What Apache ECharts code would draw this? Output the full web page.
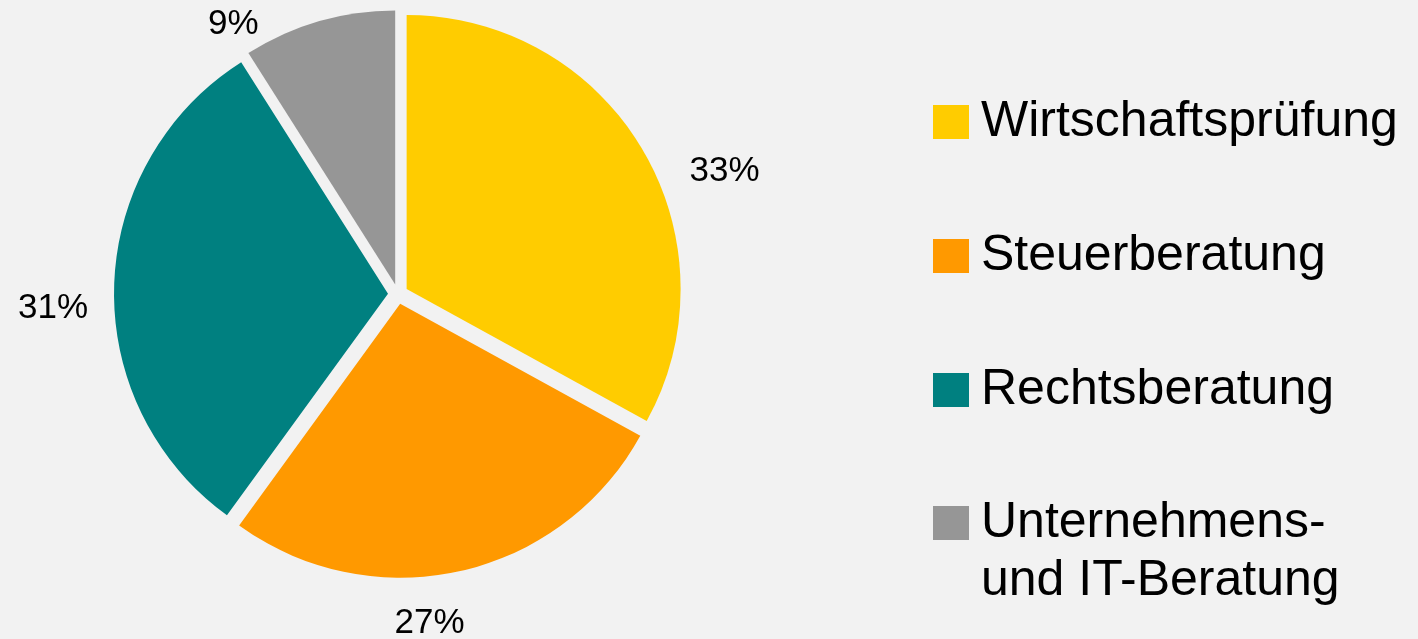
<!DOCTYPE html>
<html>
<head>
<meta charset="utf-8">
<script src="https://cdn.jsdelivr.net/npm/echarts@6/dist/echarts.min.js"></script>
<style>
html,body{margin:0;padding:0;background:#f2f2f2;}
#chart{width:1418px;height:639px;}
</style>
</head>
<body>
<div id="chart"></div>
<script>
// ---- data ----
const categories = ['Wirtschaftsprüfung', 'Steuerberatung', 'Rechtsberatung', 'Unternehmens-\nund IT-Beratung'];
const shares = [33, 27, 31, 9];

// ---- styling / label placement (not data) ----
const colors = ['#FFCC00', '#FF9900', '#008080', '#969696'];
const labelLineLen = [0, 53, 21, -3];
const labelLineLen2 = [42, -82, 0, 56];
const labelPadTop = [44, 0, 47, 0];

const FONT = '"Liberation Sans", Arial, sans-serif';
const LEGEND_FS = 50;
const LABEL_FS = 35;

const chart = echarts.init(document.getElementById('chart'));
const pieData = categories.map((name, i) => ({
  name: name,
  value: shares[i],
  selected: true,
  itemStyle: { color: colors[i] },
  label: { padding: [labelPadTop[i], 0, 0, 0] },
  labelLine: { length: labelLineLen[i], length2: labelLineLen2[i] }
}));

const legendRich = { a: { fontFamily: FONT, fontSize: LEGEND_FS, lineHeight: 58, color: '#000' } };

chart.setOption({
  animation: false,
  backgroundColor: '#f2f2f2',
  legend: [
    {
      orient: 'vertical',
      left: 933,
      top: 93,
      padding: 0,
      itemWidth: 36,
      itemHeight: 34,
      itemGap: 76,
      icon: 'rect',
      selectedMode: false,
      data: categories.slice(0, 3),
      textStyle: { fontFamily: FONT, fontSize: LEGEND_FS, lineHeight: 58, color: '#000', padding: [0, 0, 0, 7] }
    },
    {
      orient: 'vertical',
      left: 933,
      top: 436,
      padding: 0,
      itemWidth: 36,
      itemHeight: 34,
      icon: 'rect',
      selectedMode: false,
      data: categories.slice(3),
      formatter: function (name) {
        return name.split('\n').map(function (s) { return '{a|' + s + '}'; }).join('\n');
      },
      textStyle: { fontFamily: FONT, fontSize: LEGEND_FS, lineHeight: 58, color: '#000', padding: [58, 0, 0, 7], rich: legendRich }
    }
  ],
  series: [{
    type: 'pie',
    center: [398, 294],
    radius: 274,
    startAngle: 90,
    clockwise: true,
    selectedMode: 'multiple',
    selectedOffset: 10,
    avoidLabelOverlap: false,
    silent: true,
    emphasis: { disabled: true },
    select: { itemStyle: { borderWidth: 0 } },
    label: {
      show: true,
      position: 'outside',
      formatter: '{v|{c}%}',
      fontFamily: FONT,
      fontSize: LABEL_FS,
      color: '#000',
      distanceToLabelLine: 5,
      rich: { v: { fontFamily: FONT, fontSize: LABEL_FS, color: '#000' } }
    },
    labelLine: { show: false },
    data: pieData
  }]
});
</script>
</body>
</html>
